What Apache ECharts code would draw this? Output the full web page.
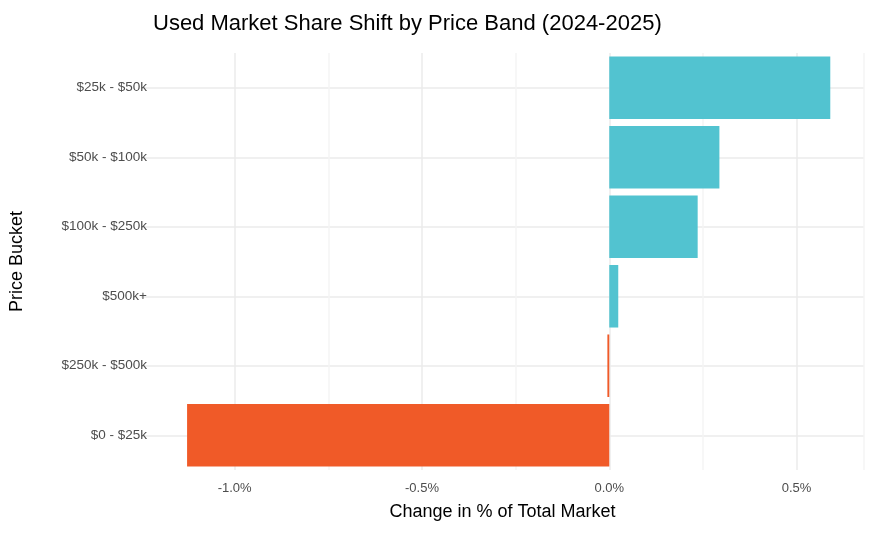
<!DOCTYPE html>
<html><head><meta charset="utf-8">
<script src="https://cdn.jsdelivr.net/npm/echarts@6/dist/echarts.min.js"></script>
<style>html,body{margin:0;padding:0;background:#fff}#c{width:875px;height:540px}</style>
</head><body><div id="c"></div>
<script>
const categories = ["$0 - $25k","$250k - $500k","$500k+","$100k - $250k","$50k - $100k","$25k - $50k"];
const values = [-1.127,-0.005,0.024,0.236,0.294,0.59];
const posColor = "#52C3D0", negColor = "#F05A28";
const chart = echarts.init(document.getElementById('c'));
chart.setOption({
  animation:false,
  title:{text:"Used Market Share Shift by Price Band (2024-2025)",left:148,top:8,
    textStyle:{fontFamily:"Liberation Sans, Arial",fontSize:22,fontWeight:"normal",color:"#000"}},
  grid:{left:135,right:11,top:53,bottom:70},
  xAxis:{type:"value",min:-1.25,max:0.68,interval:0.25,
    name:"Change in % of Total Market",nameLocation:"middle",nameGap:33,
    nameTextStyle:{fontFamily:"Liberation Sans, Arial",fontSize:18,color:"#000"},
    axisLine:{show:false},axisTick:{show:false},
    axisLabel:{fontFamily:"Liberation Sans, Arial",fontSize:13,color:"#4d4d4d",margin:12,
      formatter:v=>{const r=Math.round(v*100)/100; return (Math.abs(r*2-Math.round(r*2))<1e-6 && r<=0.6 && r>-1.2)? r.toFixed(1)+"%":"";}},
    splitLine:{lineStyle:{color:["rgba(0,0,0,0)","#ebebeb","#f5f5f5","#ebebeb","#f5f5f5","#ebebeb","#f5f5f5","#ebebeb","#f5f5f5"],width:1.5}}},
  yAxis:[{type:"category",data:categories,
    name:"Price Bucket",nameLocation:"middle",nameGap:115,
    nameTextStyle:{fontFamily:"Liberation Sans, Arial",fontSize:18,color:"#000"},
    axisLine:{show:false},axisTick:{show:false},
    axisLabel:{fontFamily:"Liberation Sans, Arial",fontSize:13.5,color:"#4d4d4d",margin:-6},
    splitLine:{show:false}},
   {type:"value",min:0,max:12,interval:1,show:true,position:"right",
    axisLine:{show:false},axisTick:{show:false},axisLabel:{show:false},
    splitLine:{show:true,lineStyle:{color:["rgba(0,0,0,0)","#ebebeb"],width:1.5}}}],
  series:[{type:"bar",barCategoryGap:"10%",yAxisIndex:0,z:3,
    data:values.map(v=>({value:v,itemStyle:{color:v>=0?posColor:negColor}}))}]
});
</script></body></html>
